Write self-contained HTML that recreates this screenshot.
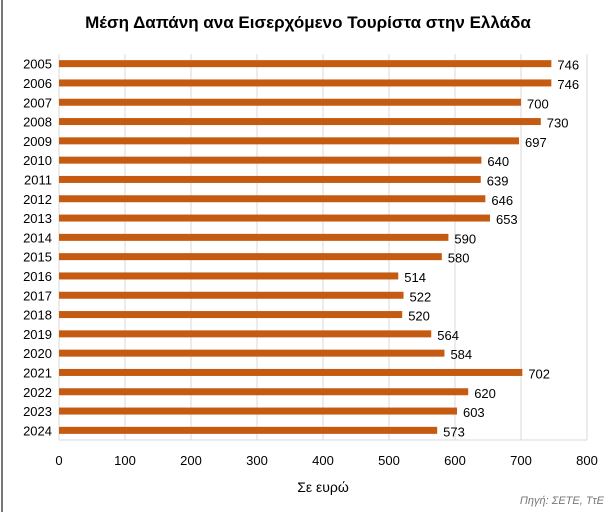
<!DOCTYPE html>
<html><head><meta charset="utf-8"><style>
body{margin:0;background:#fff;}
svg{display:block;font-family:"Liberation Sans",sans-serif;}
</style></head><body>
<svg id="c" width="616" height="512">
<rect x="0" y="0" width="616" height="512" fill="#fff"/>
<line x1="2" y1="0" x2="2" y2="512" stroke="#777" stroke-width="2"/>
<text x="308" y="28" text-anchor="middle" font-size="17" font-weight="bold" fill="#000">Μέση Δαπάνη ανα Εισερχόμενο Τουρίστα στην Ελλάδα</text>
<g id="grid"></g><g id="bars"></g><g id="labels"></g>
<text x="323" y="492" text-anchor="middle" font-size="14" fill="#000">Σε ευρώ</text>
<text x="604" y="504" text-anchor="end" font-size="11" font-style="italic" fill="#777">Πηγή: ΣΕΤΕ, ΤτΕ</text>
</svg>
<script>
const years=["2005","2006","2007","2008","2009","2010","2011","2012","2013","2014","2015","2016","2017","2018","2019","2020","2021","2022","2023","2024"];
const values=[746,746,700,730,697,640,639,646,653,590,580,514,522,520,564,584,702,620,603,573];
const ticks=[0,100,200,300,400,500,600,700,800];
const NS="http://www.w3.org/2000/svg";
const L=59,R=587,T=54,B=440;
const x=v=>L+(v/800)*(R-L);
const band=(B-T)/years.length;
const y=i=>T+band*(i+0.5);
function mk(t,a,p){const e=document.createElementNS(NS,t);for(const k in a)e.setAttribute(k,a[k]);document.getElementById(p).appendChild(e);return e;}
ticks.forEach(t=>{
 const g=mk('line',{x1:x(t),x2:x(t),y1:T,y2:B,stroke:'#d9d9d9','stroke-width':1},'grid');
 
 
 const l=mk('text',{x:x(t),y:465,'text-anchor':'middle','font-size':13,fill:'#000'},'labels');
 l.textContent=t;
 
 
});
const hb=mk('line',{x1:L,x2:R,y1:B,y2:B,stroke:'#d9d9d9'},'grid');


years.forEach((yr,i)=>{
 const r=mk('rect',{x:x(0),y:y(i)-3.5,width:x(values[i])-x(0),height:7,fill:'#c55a11'},'bars');
 
 
 const c=mk('text',{x:52,y:y(i)+5,'text-anchor':'end','font-size':13,fill:'#000'},'labels');
 c.textContent=yr;
 
 
 const v=mk('text',{x:x(values[i])+6,y:y(i)+6,'font-size':13,fill:'#000'},'labels');
 v.textContent=values[i];
 
 
});
</script>
</body></html>
